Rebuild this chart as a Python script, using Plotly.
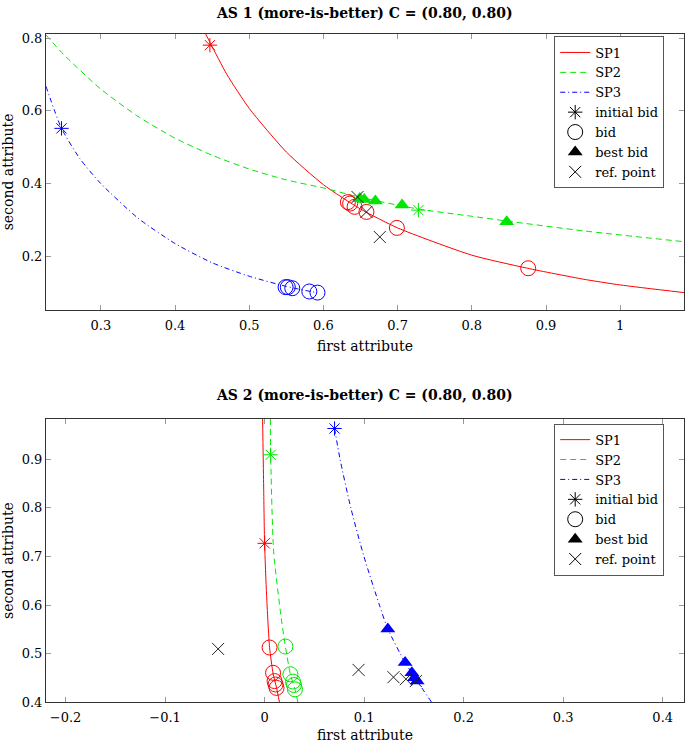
import plotly.graph_objects as go

# ---------------- AS 1 data ----------------
as1_sp1_curve_x = [0.441, 0.448, 0.47, 0.50, 0.55, 0.60, 0.65, 0.70, 0.80, 0.875, 0.95, 1.00, 1.086]
as1_sp1_curve_y = [0.813, 0.785, 0.70, 0.607, 0.487, 0.397, 0.330, 0.278, 0.203, 0.167, 0.137, 0.121, 0.100]
as1_sp2_curve_x = [0.226, 0.25, 0.3, 0.35, 0.4, 0.45, 0.5, 0.55, 0.6, 0.65, 0.728, 0.8, 0.847, 0.95, 1.086]
as1_sp2_curve_y = [0.809, 0.755, 0.66, 0.585, 0.525, 0.478, 0.44, 0.41, 0.388, 0.362, 0.330, 0.310, 0.297, 0.270, 0.240]
as1_sp3_curve_x = [0.226, 0.247, 0.272, 0.3, 0.35, 0.4, 0.45, 0.5, 0.55, 0.59]
as1_sp3_curve_y = [0.668, 0.552, 0.468, 0.40, 0.305, 0.235, 0.182, 0.145, 0.117, 0.100]

as1_init_x = [0.447, 0.728, 0.247]
as1_init_y = [0.781, 0.327, 0.552]
as1_sp1_bid_x = [0.633, 0.636, 0.642, 0.658, 0.699, 0.876]
as1_sp1_bid_y = [0.349, 0.345, 0.336, 0.322, 0.278, 0.167]
as1_sp3_bid_x = [0.549, 0.552, 0.558, 0.581, 0.592]
as1_sp3_bid_y = [0.115, 0.115, 0.112, 0.103, 0.100]
as1_sp2_best_x = [0.649, 0.655, 0.670, 0.706, 0.847]
as1_sp2_best_y = [0.359, 0.356, 0.352, 0.341, 0.295]
as1_ref_x = [0.646, 0.658, 0.676]
as1_ref_y = [0.363, 0.322, 0.253]

# ---------------- AS 2 data ----------------
as2_sp1_curve_x = [-0.002, -0.001, 0.0, 0.002, 0.005, 0.0085, 0.012, 0.015]
as2_sp1_curve_y = [0.983, 0.85, 0.727, 0.62, 0.513, 0.46, 0.43, 0.40]
as2_sp2_curve_x = [0.0058, 0.0061, 0.0091, 0.0168, 0.0209, 0.0259, 0.0305, 0.0335]
as2_sp2_curve_y = [0.983, 0.909, 0.71, 0.572, 0.515, 0.458, 0.427, 0.40]
as2_sp3_curve_x = [0.0703, 0.0758, 0.0866, 0.0998, 0.1154, 0.1238, 0.1412, 0.148, 0.1533, 0.168]
as2_sp3_curve_y = [0.963, 0.900, 0.800, 0.700, 0.600, 0.551, 0.482, 0.461, 0.444, 0.400]

as2_init_x = [0.0001, 0.0061, 0.0703]
as2_init_y = [0.727, 0.909, 0.963]
as2_sp1_bid_x = [0.005, 0.0085, 0.010, 0.011, 0.012]
as2_sp1_bid_y = [0.513, 0.461, 0.444, 0.437, 0.430]
as2_sp2_bid_x = [0.0209, 0.0259, 0.0285, 0.0295, 0.0305]
as2_sp2_bid_y = [0.515, 0.458, 0.443, 0.436, 0.427]
as2_sp3_best_x = [0.1238, 0.1412, 0.148, 0.1506, 0.1533]
as2_sp3_best_y = [0.551, 0.482, 0.461, 0.451, 0.444]
as2_ref_x = [-0.0467, 0.0944, 0.1295, 0.142, 0.152]
as2_ref_y = [0.510, 0.467, 0.452, 0.448, 0.444]

series_names = ["SP1", "SP2", "SP3"]
series_colors = ["#ff0000", "#00e600", "#0000ff"]
series_dash = ["solid", "6px,4px", "5px,3px,1px,3px"]
marker_names = ["initial bid", "bid", "best bid", "ref. point"]

as1_x_ticks = [0.3, 0.4, 0.5, 0.6, 0.7, 0.8, 0.9, 1.0]
as1_x_labels = ["0.3", "0.4", "0.5", "0.6", "0.7", "0.8", "0.9", "1"]
as1_y_ticks = [0.2, 0.4, 0.6, 0.8]
as1_y_labels = ["0.2", "0.4", "0.6", "0.8"]
as2_x_ticks = [-0.2, -0.1, 0.0, 0.1, 0.2, 0.3, 0.4]
as2_x_labels = ["\u22120.2", "\u22120.1", "0", "0.1", "0.2", "0.3", "0.4"]
as2_y_ticks = [0.4, 0.5, 0.6, 0.7, 0.8, 0.9]
as2_y_labels = ["0.4", "0.5", "0.6", "0.7", "0.8", "0.9"]

FONT = "DejaVu Serif"
fig = go.Figure()


def add_panel(xa, ya, leg, curves, inits, bids, bests, refs):
    for (cx, cy), name, col, dash in zip(curves, series_names, series_colors, series_dash):
        fig.add_trace(go.Scatter(x=cx, y=cy, mode="lines", name=name,
                                 line=dict(color=col, width=1, dash=dash, shape="spline", smoothing=0.6),
                                 xaxis=xa, yaxis=ya, legend=leg, showlegend=True))
    for i, col in enumerate(series_colors):
        fig.add_trace(go.Scatter(x=[inits[0][i]], y=[inits[1][i]], mode="markers",
                                 marker=dict(symbol="asterisk", size=12, line=dict(color=col, width=1)),
                                 xaxis=xa, yaxis=ya, legend=leg, showlegend=False))
    for (bx, by), col in bids:
        fig.add_trace(go.Scatter(x=bx, y=by, mode="markers",
                                 marker=dict(symbol="circle-open", size=15, color=col, line=dict(color=col, width=1)),
                                 xaxis=xa, yaxis=ya, legend=leg, showlegend=False))
    for (bx, by), col in bests:
        fig.add_trace(go.Scatter(x=bx, y=by, mode="markers",
                                 marker=dict(symbol="triangle-up", size=13, color=col, line=dict(width=0)),
                                 xaxis=xa, yaxis=ya, legend=leg, showlegend=False))
    fig.add_trace(go.Scatter(x=refs[0], y=refs[1], mode="markers",
                             marker=dict(symbol="x-thin", size=12, line=dict(color="#222222", width=1)),
                             xaxis=xa, yaxis=ya, legend=leg, showlegend=False))
    syms = [dict(symbol="asterisk", size=12, line=dict(color="black", width=1)),
            dict(symbol="circle-open", size=15, color="black", line=dict(color="black", width=1)),
            dict(symbol="triangle-up", size=13, color="black", line=dict(width=0)),
            dict(symbol="x-thin", size=12, line=dict(color="black", width=1))]
    for nm, mk in zip(marker_names, syms):
        fig.add_trace(go.Scatter(x=[None], y=[None], mode="markers", name=nm, marker=mk,
                                 xaxis=xa, yaxis=ya, legend=leg, showlegend=True))


add_panel("x", "y", "legend",
          [(as1_sp1_curve_x, as1_sp1_curve_y), (as1_sp2_curve_x, as1_sp2_curve_y), (as1_sp3_curve_x, as1_sp3_curve_y)],
          (as1_init_x, as1_init_y),
          [((as1_sp1_bid_x, as1_sp1_bid_y), series_colors[0]), ((as1_sp3_bid_x, as1_sp3_bid_y), series_colors[2])],
          [((as1_sp2_best_x, as1_sp2_best_y), series_colors[1])],
          (as1_ref_x, as1_ref_y))
add_panel("x2", "y2", "legend2",
          [(as2_sp1_curve_x, as2_sp1_curve_y), (as2_sp2_curve_x, as2_sp2_curve_y), (as2_sp3_curve_x, as2_sp3_curve_y)],
          (as2_init_x, as2_init_y),
          [((as2_sp1_bid_x, as2_sp1_bid_y), series_colors[0]), ((as2_sp2_bid_x, as2_sp2_bid_y), series_colors[1])],
          [((as2_sp3_best_x, as2_sp3_best_y), series_colors[2])],
          (as2_ref_x, as2_ref_y))

W, H = 685, 743
axis_common = dict(showline=True, linecolor="#333333", linewidth=1, mirror="ticks", ticks="inside",
                   ticklen=5, tickcolor="#999999", showgrid=False, zeroline=False,
                   tickfont=dict(family=FONT, size=13, color="black"))
title_font = dict(family=FONT, size=14, color="black")
x_dom = [46 / W, 1.0]
fig.update_layout(
    width=W, height=H, margin=dict(l=0, r=0, t=0, b=0),
    paper_bgcolor="white", plot_bgcolor="white",
    font=dict(family=FONT, size=13, color="black"),
    xaxis=dict(domain=x_dom, range=[0.226, 1.086], tickvals=as1_x_ticks, ticktext=as1_x_labels,
               anchor="y", ticklabelstandoff=3,
               title=dict(text="first attribute", font=title_font, standoff=9), **axis_common),
    yaxis=dict(domain=[1 - 312 / H, 1 - 31 / H], range=[0.051, 0.813], tickvals=as1_y_ticks, ticktext=as1_y_labels,
               anchor="x", title=dict(text="second attribute", font=title_font, standoff=6), **axis_common),
    xaxis2=dict(domain=x_dom, range=[-0.2197, 0.4214], tickvals=as2_x_ticks, ticktext=as2_x_labels,
                anchor="y2", ticklabelstandoff=3,
                title=dict(text="first attribute", font=title_font, standoff=7), **axis_common),
    yaxis2=dict(domain=[1 - 710 / H, 1 - 422 / H], range=[0.4, 0.983], tickvals=as2_y_ticks, ticktext=as2_y_labels,
                anchor="x2", title=dict(text="second attribute", font=title_font, standoff=6), **axis_common),
    legend=dict(x=555 / W, y=1 - 34 / H, xanchor="left", yanchor="top", bordercolor="#555555", borderwidth=1,
                bgcolor="white", font=dict(family=FONT, size=13), tracegroupgap=0),
    legend2=dict(x=555 / W, y=1 - 427 / H, xanchor="left", yanchor="top", bordercolor="#555555", borderwidth=1,
                 bgcolor="white", font=dict(family=FONT, size=13), tracegroupgap=0),
    showlegend=True,
)
fig.add_annotation(text="<b>AS 1 (more-is-better) C = (0.80, 0.80)</b>", x=365.5 / W, y=1 - 10 / H,
                   xref="paper", yref="paper", yanchor="middle", showarrow=False,
                   font=dict(family=FONT, size=14, color="black"))
fig.add_annotation(text="<b>AS 2 (more-is-better) C = (0.80, 0.80)</b>", x=365.5 / W, y=1 - 398 / H,
                   xref="paper", yref="paper", yanchor="middle", showarrow=False,
                   font=dict(family=FONT, size=14, color="black"))

fig.write_html("out.html", config={"displayModeBar": False},
               post_script="document.body.style.margin='0';document.body.style.overflow='hidden';")
